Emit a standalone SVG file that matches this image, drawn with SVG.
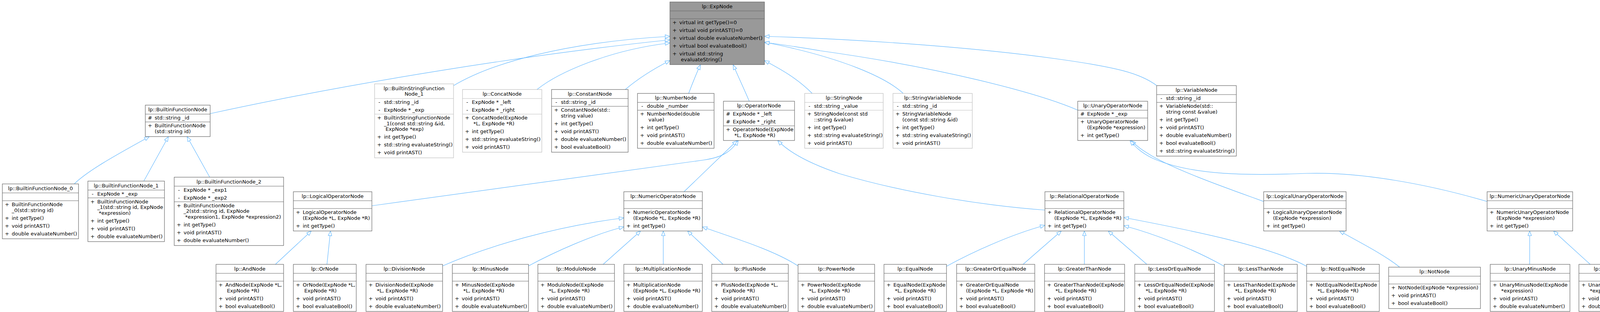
<svg xmlns="http://www.w3.org/2000/svg" width="4244" height="799" viewBox="0 0 4244 799">
<style>
text{font-family:"DejaVu Sans","Liberation Sans",sans-serif;font-size:13px;fill:#000}
.c,.v{text-anchor:middle}
.node rect{fill:#fff;stroke:#666;stroke-width:1.2}
.node path{fill:none;stroke:#666;stroke-width:1.2}
.node.l rect,.node.l path{stroke:#bfbfbf}
.node.e rect{fill:#999}
.edges path{fill:none;stroke:#63b8ff;stroke-width:1.2;marker-end:url(#a)}
</style>
<defs>
<marker id="a" markerUnits="userSpaceOnUse" markerWidth="14" markerHeight="11" viewBox="0 0 14 11" refX="13" refY="5.5" orient="auto"><path d="M1,1 L13,5.5 L1,10 Z" fill="#fff" stroke="#63b8ff" stroke-width="1.2"/></marker>
</defs>
<rect width="4244" height="799" fill="#fff"/>
<g id="edges" class="edges">
<path d="M538,291 C900,212 1350,140 1715,102"/>
<path d="M1160,220 C1260,160 1450,108 1715,93"/>
<path d="M1375,229 C1430,185 1560,128 1715,110"/>
<path d="M1601,229 C1635,200 1670,178 1715,155"/>
<path d="M1763,239 C1772,215 1782,190 1793,166"/>
<path d="M1918,259 C1905,228 1890,197 1877,166"/>
<path d="M2079,239 C2040,200 2000,178 1957,155"/>
<path d="M2961,219 C2920,188 2860,172 2700,150 C2500,122 2200,100 1957,93"/>
<path d="M2312,239 C2270,200 2160,148 1957,108"/>
<path d="M2759,282 C2650,235 2400,172 2100,130 C2040,120 2000,113 1957,109"/>
<path d="M190,471 C230,432 320,385 382,350"/>
<path d="M368,464 L431,350"/>
<path d="M537,454 L479,350"/>
<path d="M952,527 C1300,478 1650,428 1800,410 C1850,403 1872,388 1890,360"/>
<path d="M1751,491 L1887,360"/>
<path d="M2675,538 C2500,525 2300,490 2150,445 C2070,418 2020,390 1991,360"/>
<path d="M1133,681 C1250,630 1420,580 1597,558"/>
<path d="M1353,681 C1420,645 1520,600 1597,581"/>
<path d="M1544,677 L1640,591.5"/>
<path d="M1698,677 L1698,591.5"/>
<path d="M1851,677 L1760,591.5"/>
<path d="M2043,681 C1980,640 1880,610 1798,581"/>
<path d="M705,677 L797,591.5"/>
<path d="M837,677 L846,591.5"/>
<path d="M2423,682 C2490,645 2590,600 2675,577"/>
<path d="M2619,677 L2717,591.5"/>
<path d="M2776,677 L2776,591.5"/>
<path d="M2936,677 L2837,591.5"/>
<path d="M3134,682 C3060,640 2960,600 2877,578"/>
<path d="M3345,682 C3250,630 3050,590 2877,557"/>
<path d="M3235,516 C3150,485 3020,440 2950,400 C2925,385 2910,375 2896,360"/>
<path d="M3807,516 C3650,470 3480,440 3345,444 C3200,450 3050,450 2950,405 C2920,390 2905,375 2893,360"/>
<path d="M3583,684 C3540,650 3480,620 3429,591.5"/>
<path d="M3916,677 L3916,591.5"/>
<path d="M4071,677 L3977,591.5"/>
</g>

<g id="n-ExpNode" class="node e" transform="translate(1715,5)">
<rect width="242" height="160.5"/><path d="M0,23H242M0,43H242"/>
<text class="c" x="121" y="16">lp::ExpNode</text>
<text class="v"><tspan x="12" y="57">+</tspan><tspan x="12" y="77">+</tspan><tspan x="12" y="97">+</tspan><tspan x="12" y="117">+</tspan><tspan x="12" y="137">+</tspan></text>
<text><tspan x="24" y="57">virtual int getType()=0</tspan><tspan x="24" y="77">virtual void printAST()=0</tspan><tspan x="24" y="97">virtual double evaluateNumber()</tspan><tspan x="24" y="117">virtual bool evaluateBool()</tspan><tspan x="24" y="137">virtual std::string</tspan><tspan x="28" y="151.5">evaluateString()</tspan></text>
</g>

<g id="n-BuiltinFunctionNode" class="node" transform="translate(372,269.25)">
<rect width="166" height="80.5"/><path d="M0,23H166M0,43H166"/>
<text class="c" x="83" y="16">lp::BuiltinFunctionNode</text>
<text class="v"><tspan x="12" y="37">#</tspan><tspan x="12" y="57">+</tspan></text>
<text><tspan x="24" y="37">std::string _id</tspan><tspan x="24" y="57">BuiltinFunctionNode</tspan><tspan x="24" y="71.5">(std::string id)</tspan></text>
</g>

<g id="n-BuiltinStringFunctionNode_1" class="node l" transform="translate(959,214.75)">
<rect width="202" height="189.5"/><path d="M0,37.5H202M0,77.5H202"/>
<text class="c"><tspan x="101" y="16">lp::BuiltinStringFunction</tspan><tspan x="101" y="30.5">Node_1</tspan></text>
<text class="v"><tspan x="12" y="51.5">-</tspan><tspan x="12" y="71.5">-</tspan><tspan x="12" y="91.5">+</tspan><tspan x="12" y="140.5">+</tspan><tspan x="12" y="160.5">+</tspan><tspan x="12" y="180.5">+</tspan></text>
<text><tspan x="24" y="51.5">std::string _id</tspan><tspan x="24" y="71.5">ExpNode * _exp</tspan><tspan x="24" y="91.5">BuiltinStringFunctionNode</tspan><tspan x="24" y="106">_1(const std::string &amp;id,</tspan><tspan x="28" y="120.5">ExpNode *exp)</tspan><tspan x="24" y="140.5">int getType()</tspan><tspan x="24" y="160.5">std::string evaluateString()</tspan><tspan x="24" y="180.5">void printAST()</tspan></text>
</g>

<g id="n-ConcatNode" class="node l" transform="translate(1184,229.25)">
<rect width="203" height="160.5"/><path d="M0,23H203M0,63H203"/>
<text class="c" x="101.5" y="16">lp::ConcatNode</text>
<text class="v"><tspan x="12" y="37">-</tspan><tspan x="12" y="57">-</tspan><tspan x="12" y="77">+</tspan><tspan x="12" y="111.5">+</tspan><tspan x="12" y="131.5">+</tspan><tspan x="12" y="151.5">+</tspan></text>
<text><tspan x="24" y="37">ExpNode * _left</tspan><tspan x="24" y="57">ExpNode * _right</tspan><tspan x="24" y="77">ConcatNode(ExpNode</tspan><tspan x="28" y="91.5">*L, ExpNode *R)</tspan><tspan x="24" y="111.5">int getType()</tspan><tspan x="24" y="131.5">std::string evaluateString()</tspan><tspan x="24" y="151.5">void printAST()</tspan></text>
</g>

<g id="n-ConstantNode" class="node" transform="translate(1412,229.25)">
<rect width="196" height="160.5"/><path d="M0,23H196M0,43H196"/>
<text class="c" x="98" y="16">lp::ConstantNode</text>
<text class="v"><tspan x="12" y="37">-</tspan><tspan x="12" y="57">+</tspan><tspan x="12" y="91.5">+</tspan><tspan x="12" y="111.5">+</tspan><tspan x="12" y="131.5">+</tspan><tspan x="12" y="151.5">+</tspan></text>
<text><tspan x="24" y="37">std::string _id</tspan><tspan x="24" y="57">ConstantNode(std::</tspan><tspan x="24" y="71.5">string value)</tspan><tspan x="24" y="91.5">int getType()</tspan><tspan x="24" y="111.5">void printAST()</tspan><tspan x="24" y="131.5">double evaluateNumber()</tspan><tspan x="24" y="151.5">bool evaluateBool()</tspan></text>
</g>

<g id="n-NumberNode" class="node" transform="translate(1632,239.25)">
<rect width="196" height="140.5"/><path d="M0,23H196M0,43H196"/>
<text class="c" x="98" y="16">lp::NumberNode</text>
<text class="v"><tspan x="12" y="37">-</tspan><tspan x="12" y="57">+</tspan><tspan x="12" y="91.5">+</tspan><tspan x="12" y="111.5">+</tspan><tspan x="12" y="131.5">+</tspan></text>
<text><tspan x="24" y="37">double _number</tspan><tspan x="24" y="57">NumberNode(double</tspan><tspan x="28" y="71.5">value)</tspan><tspan x="24" y="91.5">int getType()</tspan><tspan x="24" y="111.5">void printAST()</tspan><tspan x="24" y="131.5">double evaluateNumber()</tspan></text>
</g>

<g id="n-OperatorNode" class="node" transform="translate(1852,259.25)">
<rect width="182" height="100.5"/><path d="M0,23H182M0,63H182"/>
<text class="c" x="91" y="16">lp::OperatorNode</text>
<text class="v"><tspan x="12" y="37">#</tspan><tspan x="12" y="57">#</tspan><tspan x="12" y="77">+</tspan></text>
<text><tspan x="24" y="37">ExpNode * _left</tspan><tspan x="24" y="57">ExpNode * _right</tspan><tspan x="24" y="77">OperatorNode(ExpNode</tspan><tspan x="28" y="91.5">*L, ExpNode *R)</tspan></text>
</g>

<g id="n-StringNode" class="node l" transform="translate(2060,239.25)">
<rect width="201" height="140.5"/><path d="M0,23H201M0,43H201"/>
<text class="c" x="100.5" y="16">lp::StringNode</text>
<text class="v"><tspan x="12" y="37">-</tspan><tspan x="12" y="57">+</tspan><tspan x="12" y="91.5">+</tspan><tspan x="12" y="111.5">+</tspan><tspan x="12" y="131.5">+</tspan></text>
<text><tspan x="24" y="37">std::string _value</tspan><tspan x="24" y="57">StringNode(const std</tspan><tspan x="24" y="71.5">::string &amp;value)</tspan><tspan x="24" y="91.5">int getType()</tspan><tspan x="24" y="111.5">std::string evaluateString()</tspan><tspan x="24" y="131.5">void printAST()</tspan></text>
</g>

<g id="n-StringVariableNode" class="node l" transform="translate(2286,239.25)">
<rect width="203" height="140.5"/><path d="M0,23H203M0,43H203"/>
<text class="c" x="101.5" y="16">lp::StringVariableNode</text>
<text class="v"><tspan x="12" y="37">-</tspan><tspan x="12" y="57">+</tspan><tspan x="12" y="91.5">+</tspan><tspan x="12" y="111.5">+</tspan><tspan x="12" y="131.5">+</tspan></text>
<text><tspan x="24" y="37">std::string _id</tspan><tspan x="24" y="57">StringVariableNode</tspan><tspan x="24" y="71.5">(const std::string &amp;id)</tspan><tspan x="24" y="91.5">int getType()</tspan><tspan x="24" y="111.5">std::string evaluateString()</tspan><tspan x="24" y="131.5">void printAST()</tspan></text>
</g>

<g id="n-UnaryOperatorNode" class="node" transform="translate(2759,259.25)">
<rect width="179" height="100.5"/><path d="M0,23H179M0,43H179"/>
<text class="c" x="89.5" y="16">lp::UnaryOperatorNode</text>
<text class="v"><tspan x="12" y="37">#</tspan><tspan x="12" y="57">+</tspan><tspan x="12" y="91.5">+</tspan></text>
<text><tspan x="24" y="37">ExpNode * _exp</tspan><tspan x="24" y="57">UnaryOperatorNode</tspan><tspan x="24" y="71.5">(ExpNode *expression)</tspan><tspan x="24" y="91.5">int getType()</tspan></text>
</g>

<g id="n-VariableNode" class="node" transform="translate(2961,219.25)">
<rect width="204" height="180.5"/><path d="M0,23H204M0,43H204"/>
<text class="c" x="102" y="16">lp::VariableNode</text>
<text class="v"><tspan x="12" y="37">-</tspan><tspan x="12" y="57">+</tspan><tspan x="12" y="91.5">+</tspan><tspan x="12" y="111.5">+</tspan><tspan x="12" y="131.5">+</tspan><tspan x="12" y="151.5">+</tspan><tspan x="12" y="171.5">+</tspan></text>
<text><tspan x="24" y="37">std::string _id</tspan><tspan x="24" y="57">VariableNode(std::</tspan><tspan x="24" y="71.5">string const &amp;value)</tspan><tspan x="24" y="91.5">int getType()</tspan><tspan x="24" y="111.5">void printAST()</tspan><tspan x="24" y="131.5">double evaluateNumber()</tspan><tspan x="24" y="151.5">bool evaluateBool()</tspan><tspan x="24" y="171.5">std::string evaluateString()</tspan></text>
</g>

<g id="n-BuiltinFunctionNode_0" class="node" transform="translate(6,471)">
<rect width="195" height="140.5"/><path d="M0,23H195M0,43H195"/>
<text class="c" x="97.5" y="16">lp::BuiltinFunctionNode_0</text>
<text class="v"><tspan x="12" y="57">+</tspan><tspan x="12" y="91.5">+</tspan><tspan x="12" y="111.5">+</tspan><tspan x="12" y="131.5">+</tspan></text>
<text><tspan x="24" y="57">BuiltinFunctionNode</tspan><tspan x="24" y="71.5">_0(std::string id)</tspan><tspan x="24" y="91.5">int getType()</tspan><tspan x="24" y="111.5">void printAST()</tspan><tspan x="24" y="131.5">double evaluateNumber()</tspan></text>
</g>

<g id="n-BuiltinFunctionNode_1" class="node" transform="translate(225,463.75)">
<rect width="196" height="155"/><path d="M0,23H196M0,43H196"/>
<text class="c" x="98" y="16">lp::BuiltinFunctionNode_1</text>
<text class="v"><tspan x="12" y="37">-</tspan><tspan x="12" y="57">+</tspan><tspan x="12" y="106">+</tspan><tspan x="12" y="126">+</tspan><tspan x="12" y="146">+</tspan></text>
<text><tspan x="24" y="37">ExpNode * _exp</tspan><tspan x="24" y="57">BuiltinFunctionNode</tspan><tspan x="24" y="71.5">_1(std::string id, ExpNode</tspan><tspan x="28" y="86">*expression)</tspan><tspan x="24" y="106">int getType()</tspan><tspan x="24" y="126">void printAST()</tspan><tspan x="24" y="146">double evaluateNumber()</tspan></text>
</g>

<g id="n-BuiltinFunctionNode_2" class="node" transform="translate(446,453.75)">
<rect width="280" height="175"/><path d="M0,23H280M0,63H280"/>
<text class="c" x="140" y="16">lp::BuiltinFunctionNode_2</text>
<text class="v"><tspan x="12" y="37">-</tspan><tspan x="12" y="57">-</tspan><tspan x="12" y="77">+</tspan><tspan x="12" y="126">+</tspan><tspan x="12" y="146">+</tspan><tspan x="12" y="166">+</tspan></text>
<text><tspan x="24" y="37">ExpNode * _exp1</tspan><tspan x="24" y="57">ExpNode * _exp2</tspan><tspan x="24" y="77">BuiltinFunctionNode</tspan><tspan x="24" y="91.5">_2(std::string id, ExpNode</tspan><tspan x="28" y="106">*expression1, ExpNode *expression2)</tspan><tspan x="24" y="126">int getType()</tspan><tspan x="24" y="146">void printAST()</tspan><tspan x="24" y="166">double evaluateNumber()</tspan></text>
</g>

<g id="n-LogicalOperatorNode" class="node" transform="translate(751,491)">
<rect width="201" height="100.5"/><path d="M0,23H201M0,43H201"/>
<text class="c" x="100.5" y="16">lp::LogicalOperatorNode</text>
<text class="v"><tspan x="12" y="57">+</tspan><tspan x="12" y="91.5">+</tspan></text>
<text><tspan x="24" y="57">LogicalOperatorNode</tspan><tspan x="24" y="71.5">(ExpNode *L, ExpNode *R)</tspan><tspan x="24" y="91.5">int getType()</tspan></text>
</g>

<g id="n-NumericOperatorNode" class="node" transform="translate(1597,491)">
<rect width="201" height="100.5"/><path d="M0,23H201M0,43H201"/>
<text class="c" x="100.5" y="16">lp::NumericOperatorNode</text>
<text class="v"><tspan x="12" y="57">+</tspan><tspan x="12" y="91.5">+</tspan></text>
<text><tspan x="24" y="57">NumericOperatorNode</tspan><tspan x="24" y="71.5">(ExpNode *L, ExpNode *R)</tspan><tspan x="24" y="91.5">int getType()</tspan></text>
</g>

<g id="n-RelationalOperatorNode" class="node" transform="translate(2675,491)">
<rect width="202" height="100.5"/><path d="M0,23H202M0,43H202"/>
<text class="c" x="101" y="16">lp::RelationalOperatorNode</text>
<text class="v"><tspan x="12" y="57">+</tspan><tspan x="12" y="91.5">+</tspan></text>
<text><tspan x="24" y="57">RelationalOperatorNode</tspan><tspan x="24" y="71.5">(ExpNode *L, ExpNode *R)</tspan><tspan x="24" y="91.5">int getType()</tspan></text>
</g>

<g id="n-LogicalUnaryOperatorNode" class="node" transform="translate(3235,491)">
<rect width="211" height="100.5"/><path d="M0,23H211M0,43H211"/>
<text class="c" x="105.5" y="16">lp::LogicalUnaryOperatorNode</text>
<text class="v"><tspan x="12" y="57">+</tspan><tspan x="12" y="91.5">+</tspan></text>
<text><tspan x="24" y="57">LogicalUnaryOperatorNode</tspan><tspan x="24" y="71.5">(ExpNode *expression)</tspan><tspan x="24" y="91.5">int getType()</tspan></text>
</g>

<g id="n-NumericUnaryOperatorNode" class="node" transform="translate(3807,491)">
<rect width="219" height="100.5"/><path d="M0,23H219M0,43H219"/>
<text class="c" x="109.5" y="16">lp::NumericUnaryOperatorNode</text>
<text class="v"><tspan x="12" y="57">+</tspan><tspan x="12" y="91.5">+</tspan></text>
<text><tspan x="24" y="57">NumericUnaryOperatorNode</tspan><tspan x="24" y="71.5">(ExpNode *expression)</tspan><tspan x="24" y="91.5">int getType()</tspan></text>
</g>

<g id="n-AndNode" class="node" transform="translate(553,677)">
<rect width="173" height="120.5"/><path d="M0,23H173M0,43H173"/>
<text class="c" x="86.5" y="16">lp::AndNode</text>
<text class="v"><tspan x="12" y="57">+</tspan><tspan x="12" y="91.5">+</tspan><tspan x="12" y="111.5">+</tspan></text>
<text><tspan x="24" y="57">AndNode(ExpNode *L,</tspan><tspan x="28" y="71.5">ExpNode *R)</tspan><tspan x="24" y="91.5">void printAST()</tspan><tspan x="24" y="111.5">bool evaluateBool()</tspan></text>
</g>

<g id="n-OrNode" class="node" transform="translate(751,677)">
<rect width="161" height="120.5"/><path d="M0,23H161M0,43H161"/>
<text class="c" x="80.5" y="16">lp::OrNode</text>
<text class="v"><tspan x="12" y="57">+</tspan><tspan x="12" y="91.5">+</tspan><tspan x="12" y="111.5">+</tspan></text>
<text><tspan x="24" y="57">OrNode(ExpNode *L,</tspan><tspan x="28" y="71.5">ExpNode *R)</tspan><tspan x="24" y="91.5">void printAST()</tspan><tspan x="24" y="111.5">bool evaluateBool()</tspan></text>
</g>

<g id="n-DivisionNode" class="node" transform="translate(937,677)">
<rect width="196" height="120.5"/><path d="M0,23H196M0,43H196"/>
<text class="c" x="98" y="16">lp::DivisionNode</text>
<text class="v"><tspan x="12" y="57">+</tspan><tspan x="12" y="91.5">+</tspan><tspan x="12" y="111.5">+</tspan></text>
<text><tspan x="24" y="57">DivisionNode(ExpNode</tspan><tspan x="28" y="71.5">*L, ExpNode *R)</tspan><tspan x="24" y="91.5">void printAST()</tspan><tspan x="24" y="111.5">double evaluateNumber()</tspan></text>
</g>

<g id="n-MinusNode" class="node" transform="translate(1158,677)">
<rect width="195" height="120.5"/><path d="M0,23H195M0,43H195"/>
<text class="c" x="97.5" y="16">lp::MinusNode</text>
<text class="v"><tspan x="12" y="57">+</tspan><tspan x="12" y="91.5">+</tspan><tspan x="12" y="111.5">+</tspan></text>
<text><tspan x="24" y="57">MinusNode(ExpNode</tspan><tspan x="28" y="71.5">*L, ExpNode *R)</tspan><tspan x="24" y="91.5">void printAST()</tspan><tspan x="24" y="111.5">double evaluateNumber()</tspan></text>
</g>

<g id="n-ModuloNode" class="node" transform="translate(1377,677)">
<rect width="196" height="120.5"/><path d="M0,23H196M0,43H196"/>
<text class="c" x="98" y="16">lp::ModuloNode</text>
<text class="v"><tspan x="12" y="57">+</tspan><tspan x="12" y="91.5">+</tspan><tspan x="12" y="111.5">+</tspan></text>
<text><tspan x="24" y="57">ModuloNode(ExpNode</tspan><tspan x="28" y="71.5">*L, ExpNode *R)</tspan><tspan x="24" y="91.5">void printAST()</tspan><tspan x="24" y="111.5">double evaluateNumber()</tspan></text>
</g>

<g id="n-MultiplicationNode" class="node" transform="translate(1597,677)">
<rect width="201" height="120.5"/><path d="M0,23H201M0,43H201"/>
<text class="c" x="100.5" y="16">lp::MultiplicationNode</text>
<text class="v"><tspan x="12" y="57">+</tspan><tspan x="12" y="91.5">+</tspan><tspan x="12" y="111.5">+</tspan></text>
<text><tspan x="24" y="57">MultiplicationNode</tspan><tspan x="24" y="71.5">(ExpNode *L, ExpNode *R)</tspan><tspan x="24" y="91.5">void printAST()</tspan><tspan x="24" y="111.5">double evaluateNumber()</tspan></text>
</g>

<g id="n-PlusNode" class="node" transform="translate(1822,677)">
<rect width="196" height="120.5"/><path d="M0,23H196M0,43H196"/>
<text class="c" x="98" y="16">lp::PlusNode</text>
<text class="v"><tspan x="12" y="57">+</tspan><tspan x="12" y="91.5">+</tspan><tspan x="12" y="111.5">+</tspan></text>
<text><tspan x="24" y="57">PlusNode(ExpNode *L,</tspan><tspan x="28" y="71.5">ExpNode *R)</tspan><tspan x="24" y="91.5">void printAST()</tspan><tspan x="24" y="111.5">double evaluateNumber()</tspan></text>
</g>

<g id="n-PowerNode" class="node" transform="translate(2043,677)">
<rect width="196" height="120.5"/><path d="M0,23H196M0,43H196"/>
<text class="c" x="98" y="16">lp::PowerNode</text>
<text class="v"><tspan x="12" y="57">+</tspan><tspan x="12" y="91.5">+</tspan><tspan x="12" y="111.5">+</tspan></text>
<text><tspan x="24" y="57">PowerNode(ExpNode</tspan><tspan x="28" y="71.5">*L, ExpNode *R)</tspan><tspan x="24" y="91.5">void printAST()</tspan><tspan x="24" y="111.5">double evaluateNumber()</tspan></text>
</g>

<g id="n-EqualNode" class="node" transform="translate(2263,677)">
<rect width="160" height="120.5"/><path d="M0,23H160M0,43H160"/>
<text class="c" x="80" y="16">lp::EqualNode</text>
<text class="v"><tspan x="12" y="57">+</tspan><tspan x="12" y="91.5">+</tspan><tspan x="12" y="111.5">+</tspan></text>
<text><tspan x="24" y="57">EqualNode(ExpNode</tspan><tspan x="28" y="71.5">*L, ExpNode *R)</tspan><tspan x="24" y="91.5">void printAST()</tspan><tspan x="24" y="111.5">bool evaluateBool()</tspan></text>
</g>

<g id="n-GreaterOrEqualNode" class="node" transform="translate(2449,677)">
<rect width="200" height="120.5"/><path d="M0,23H200M0,43H200"/>
<text class="c" x="100" y="16">lp::GreaterOrEqualNode</text>
<text class="v"><tspan x="12" y="57">+</tspan><tspan x="12" y="91.5">+</tspan><tspan x="12" y="111.5">+</tspan></text>
<text><tspan x="24" y="57">GreaterOrEqualNode</tspan><tspan x="24" y="71.5">(ExpNode *L, ExpNode *R)</tspan><tspan x="24" y="91.5">void printAST()</tspan><tspan x="24" y="111.5">bool evaluateBool()</tspan></text>
</g>

<g id="n-GreaterThanNode" class="node" transform="translate(2674,677)">
<rect width="205" height="120.5"/><path d="M0,23H205M0,43H205"/>
<text class="c" x="102.5" y="16">lp::GreaterThanNode</text>
<text class="v"><tspan x="12" y="57">+</tspan><tspan x="12" y="91.5">+</tspan><tspan x="12" y="111.5">+</tspan></text>
<text><tspan x="24" y="57">GreaterThanNode(ExpNode</tspan><tspan x="28" y="71.5">*L, ExpNode *R)</tspan><tspan x="24" y="91.5">void printAST()</tspan><tspan x="24" y="111.5">bool evaluateBool()</tspan></text>
</g>

<g id="n-LessOrEqualNode" class="node" transform="translate(2905,677)">
<rect width="204" height="120.5"/><path d="M0,23H204M0,43H204"/>
<text class="c" x="102" y="16">lp::LessOrEqualNode</text>
<text class="v"><tspan x="12" y="57">+</tspan><tspan x="12" y="91.5">+</tspan><tspan x="12" y="111.5">+</tspan></text>
<text><tspan x="24" y="57">LessOrEqualNode(ExpNode</tspan><tspan x="28" y="71.5">*L, ExpNode *R)</tspan><tspan x="24" y="91.5">void printAST()</tspan><tspan x="24" y="111.5">bool evaluateBool()</tspan></text>
</g>

<g id="n-LessThanNode" class="node" transform="translate(3134,677)">
<rect width="187" height="120.5"/><path d="M0,23H187M0,43H187"/>
<text class="c" x="93.5" y="16">lp::LessThanNode</text>
<text class="v"><tspan x="12" y="57">+</tspan><tspan x="12" y="91.5">+</tspan><tspan x="12" y="111.5">+</tspan></text>
<text><tspan x="24" y="57">LessThanNode(ExpNode</tspan><tspan x="28" y="71.5">*L, ExpNode *R)</tspan><tspan x="24" y="91.5">void printAST()</tspan><tspan x="24" y="111.5">bool evaluateBool()</tspan></text>
</g>

<g id="n-NotEqualNode" class="node" transform="translate(3345,677)">
<rect width="186" height="120.5"/><path d="M0,23H186M0,43H186"/>
<text class="c" x="93" y="16">lp::NotEqualNode</text>
<text class="v"><tspan x="12" y="57">+</tspan><tspan x="12" y="91.5">+</tspan><tspan x="12" y="111.5">+</tspan></text>
<text><tspan x="24" y="57">NotEqualNode(ExpNode</tspan><tspan x="28" y="71.5">*L, ExpNode *R)</tspan><tspan x="24" y="91.5">void printAST()</tspan><tspan x="24" y="111.5">bool evaluateBool()</tspan></text>
</g>

<g id="n-NotNode" class="node" transform="translate(3555,684.25)">
<rect width="235" height="106"/><path d="M0,23H235M0,43H235"/>
<text class="c" x="117.5" y="16">lp::NotNode</text>
<text class="v"><tspan x="12" y="57">+</tspan><tspan x="12" y="77">+</tspan><tspan x="12" y="97">+</tspan></text>
<text><tspan x="24" y="57">NotNode(ExpNode *expression)</tspan><tspan x="24" y="77">void printAST()</tspan><tspan x="24" y="97">bool evaluateBool()</tspan></text>
</g>

<g id="n-UnaryMinusNode" class="node" transform="translate(3815,677)">
<rect width="204" height="120.5"/><path d="M0,23H204M0,43H204"/>
<text class="c" x="102" y="16">lp::UnaryMinusNode</text>
<text class="v"><tspan x="12" y="57">+</tspan><tspan x="12" y="91.5">+</tspan><tspan x="12" y="111.5">+</tspan></text>
<text><tspan x="24" y="57">UnaryMinusNode(ExpNode</tspan><tspan x="28" y="71.5">*expression)</tspan><tspan x="24" y="91.5">void printAST()</tspan><tspan x="24" y="111.5">double evaluateNumber()</tspan></text>
</g>

<g id="n-UnaryPlusNode" class="node" transform="translate(4042,677)">
<rect width="196" height="120.5"/><path d="M0,23H196M0,43H196"/>
<text class="c" x="98" y="16">lp::UnaryPlusNode</text>
<text class="v"><tspan x="12" y="57">+</tspan><tspan x="12" y="91.5">+</tspan><tspan x="12" y="111.5">+</tspan></text>
<text><tspan x="24" y="57">UnaryPlusNode(ExpNode</tspan><tspan x="28" y="71.5">*expression)</tspan><tspan x="24" y="91.5">void printAST()</tspan><tspan x="24" y="111.5">double evaluateNumber()</tspan></text>
</g>
</svg>
